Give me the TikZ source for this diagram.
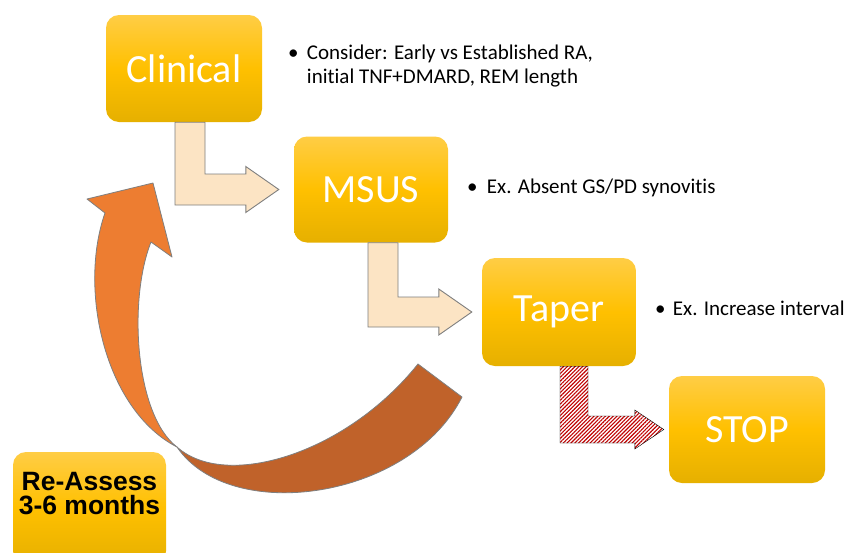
\documentclass[tikz,border=0pt]{standalone}
\usepackage{fontspec}
\setmainfont{Carlito}[Ligatures=NoCommon]
\newfontfamily\arialfont{Liberation Sans}
\usetikzlibrary{calc,patterns.meta}
\definecolor{boxtop}{HTML}{FFCD45}
\definecolor{boxmid}{HTML}{FFC000}
\definecolor{boxbot}{HTML}{E6B000}
\definecolor{peach}{HTML}{FCE4C4}
\definecolor{edgegray}{HTML}{7F7F7F}
\definecolor{orangeA}{HTML}{ED7D31}
\definecolor{orangeB}{HTML}{C0622A}
\definecolor{hatchred}{HTML}{C00000}
\newcommand{\bentarrow}[9]{%
  \draw[#1] let \p1=(#2.south), \p2=([xshift=-#9]#3.west) in
  (#4,\y1) -- ({#4+#5},\y1) -- ({#4+#5},{\y2+#6}) -- ({\x2-#8},{\y2+#6})
  -- ({\x2-#8},{\y2+#7}) -- (\x2,\y2) -- ({\x2-#8},{\y2-#7})
  -- ({\x2-#8},{\y2-#6}) -- (#4,{\y2-#6}) -- cycle;}
\tikzset{
  box/.style={rectangle, rounded corners=13pt, inner sep=0pt,
    minimum width=156pt, minimum height=107pt,
    top color=boxtop, bottom color=boxbot, middle color=boxmid,
    text=white, font=\fontsize{40}{48}\selectfont},
  peacharrow/.style={fill=peach, draw=edgegray, line width=0.9pt, line join=miter},
  hatcharrow/.style={pattern={Lines[angle=45,distance=2.7pt,line width=1.1pt]},
    pattern color=hatchred},
  note/.style={anchor=base west, inner sep=0pt, font=\fontsize{21}{24}\selectfont, text=black},
  curveedge/.style={draw=edgegray, line width=0.8pt, line join=round}
}
\begin{document}
\begin{tikzpicture}[x=1pt,y=-1pt]
\useasboundingbox (0,0) rectangle (857,552);
\fill[white] (0,0) rectangle (857,552);
% curved return arrow
\path[curveedge, fill=orangeB] (177,447) .. controls (225,490) and (345,455) .. (418,364)
  -- (462,397) .. controls (410,500) and (230,525) .. (177,447) -- cycle;
\path[curveedge, fill=orangeA] (177,447) .. controls (105,410) and (78,290) .. (105,213)
  -- (87,199) -- (153,183) -- (172,257) -- (151,242)
  .. controls (128,300) and (135,415) .. (177,447) -- cycle;
% boxes
\node[box] (clinical) at (184,68.5) {Clinical};
\node[box, minimum width=154pt, minimum height=106pt] (msus) at (371,189.5) {MSUS};
\node[box, minimum width=154pt, minimum height=108pt] (taper) at (559,312) {Taper};
\node[box, minimum height=107pt] (stop) at (747,429.5) {STOP};
\node[box, minimum width=153pt, minimum height=112pt] (reassess) at (89.5,508) {};
\node[anchor=base, inner sep=0pt, align=center, text=black,
  font=\arialfont\bfseries\fontsize{26.5}{24}\selectfont] (reassesstext) at (89.5,514)
  {Re-Assess\\3-6 months};
% bent arrows
\bentarrow{peacharrow}{clinical}{msus}{175pt}{30pt}{15.5pt}{23pt}{33pt}{15pt}
\bentarrow{peacharrow}{msus}{taper}{368pt}{30pt}{15pt}{23pt}{33pt}{10pt}
\bentarrow{hatcharrow}{taper}{stop}{560pt}{28pt}{13.5pt}{19.5pt}{29pt}{5pt}
% notes
\node[note] (n1) at (288,59) {\begin{tabular}[t]{@{}l@{\hspace{8.3pt}}l@{}}\textbullet & Consider: Early vs Established RA,\\ & initial TNF+DMARD, REM length\end{tabular}};
\node[note] (n2) at (467,193) {\textbullet\hspace{9.3pt}Ex. Absent GS/PD synovitis};
\node[note] (n3) at (655,315) {\textbullet\hspace{7.3pt}Ex. Increase interval};
\end{tikzpicture}
\end{document}
